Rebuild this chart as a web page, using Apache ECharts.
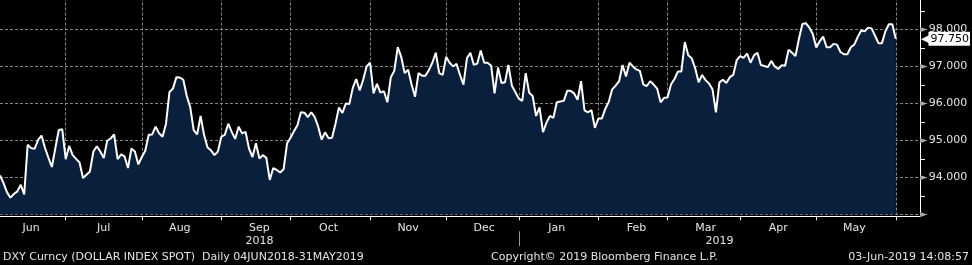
<!DOCTYPE html>
<html><head><meta charset="utf-8">
<script src="https://cdn.jsdelivr.net/npm/echarts@6/dist/echarts.min.js"></script>
<style>html,body{margin:0;padding:0;background:#000;overflow:hidden;}#c{position:absolute;left:0;top:-13px;width:972px;height:278px;}</style>
</head><body><div id="c"></div>
<script>
// ---- data ----
const firstDay = '2018-06-04';
const lastDataDay = '2019-05-31';
const axisEndDay = '2019-06-11';
const monthNames = ['Jan','Feb','Mar','Apr','May','Jun','Jul','Aug','Sep','Oct','Nov','Dec'];
const dxy2018 = [
94.05,93.85,93.60,93.45,93.55,93.62,93.80,93.54,94.88,94.79,
94.77,95.01,95.13,94.80,94.53,94.28,94.79,95.28,95.30,94.49,
94.85,94.60,94.50,94.40,93.98,94.07,94.16,94.70,94.84,94.70,
94.52,94.99,95.05,95.16,94.49,94.62,94.57,94.25,94.78,94.70,
94.35,94.55,94.72,95.15,95.16,95.37,95.19,95.10,95.45,96.31,
96.40,96.71,96.70,96.64,96.20,95.90,95.28,95.16,95.66,95.15,
94.81,94.73,94.60,94.70,95.10,95.15,95.45,95.23,95.04,95.37,
95.19,95.23,94.78,94.55,94.92,94.51,94.60,94.53,93.93,94.25,
94.20,94.13,94.22,94.92,95.07,95.25,95.41,95.76,95.75,95.63,
95.76,95.63,95.37,95.02,95.22,95.06,95.07,95.45,95.89,95.74,
96.00,95.98,96.42,96.66,96.35,96.64,97.00,97.10,96.27,96.53,
96.29,96.33,96.03,96.71,96.88,97.52,97.26,96.82,96.91,96.51,
96.18,96.82,96.75,96.75,96.90,97.10,97.37,96.82,96.77,97.26,
97.10,97.00,97.07,96.77,96.51,97.22,97.37,97.04,97.08,97.43,
97.10,97.10,97.02,96.27,96.97,96.55,96.57,97.04,96.48,96.31,
96.13];
const dxy2019 = [
96.07,96.82,96.29,96.20,95.66,95.89,95.22,95.48,95.66,95.61,
96.03,96.05,96.07,96.34,96.34,96.27,96.10,96.60,95.81,95.76,
95.82,95.34,95.59,95.59,95.85,96.04,96.38,96.48,96.60,97.04,
96.73,97.10,97.00,96.92,96.88,96.51,96.47,96.60,96.51,96.40,
96.03,96.15,96.16,96.51,96.66,96.86,96.86,97.66,97.30,97.22,
96.95,96.57,96.77,96.63,96.54,96.38,95.76,96.57,96.64,96.55,
96.71,96.77,97.17,97.28,97.23,97.35,97.10,97.30,97.37,97.04,
97.01,96.98,97.15,97.00,96.93,97.03,97.02,97.45,97.37,97.28,
97.75,98.15,98.17,98.05,97.88,97.51,97.68,97.81,97.52,97.52,
97.61,97.59,97.39,97.33,97.33,97.52,97.59,97.80,97.97,97.95,
98.05,98.03,97.83,97.63,97.63,97.95,98.14,98.14,97.75];
const yMin = 93, yMax = 99, yStep = 1;
const footerLeft = 'DXY Curncy (DOLLAR INDEX SPOT)  Daily 04JUN2018-31MAY2019';
const footerMid = 'Copyright\u00a9 2019 Bloomberg Finance L.P.';
const footerRight = '03-Jun-2019 14:08:57';

// ---- build ----
function weekdays(a, b) {
  const out = [];
  let d = new Date(a + 'T00:00:00Z');
  const e = new Date(b + 'T00:00:00Z');
  while (d <= e) {
    const w = d.getUTCDay();
    if (w !== 0 && w !== 6) out.push(d.toISOString().slice(0, 10));
    d = new Date(d.getTime() + 86400000);
  }
  return out;
}
const dates = weekdays(firstDay, axisEndDay);
const values = dxy2018.concat(dxy2019);
const mon = s => +s.slice(5, 7);
const day = s => +s.slice(8, 10);
const yr = s => s.slice(0, 4);
const lastIdx = dates.indexOf(lastDataDay);
function isMonthEnd(i) { return i < dates.length - 1 && mon(dates[i]) !== mon(dates[i + 1]); }
function isMidMonth(i) {
  if (i > lastIdx) return false;
  return day(dates[i]) >= 15 && (i === 0 || day(dates[i - 1]) < 15 || mon(dates[i - 1]) !== mon(dates[i]));
}
function isYearEnd(i) { return i < dates.length - 1 && yr(dates[i]) !== yr(dates[i + 1]); }
const yearMid = {};
(function () {
  const span = {};
  dates.forEach((d, i) => { const y = yr(d); if (!span[y]) span[y] = [i, i]; span[y][1] = i; });
  Object.keys(span).forEach(y => { yearMid[Math.floor((span[y][0] + span[y][1]) / 2)] = y; });
})();

const FONT = 'DejaVu Sans';
const TXT = '#e4e4e4';
const GRID = '#858585';
const lastVal = values[values.length - 1];

const chart = echarts.init(document.getElementById('c'), null, { renderer: 'canvas' });
chart.setOption({
  backgroundColor: '#000',
  animation: false,
  title: [
    { text: footerLeft, left: 3, top: 265, padding: 0, textStyle: { color: TXT, fontSize: 11, fontWeight: 'normal', fontFamily: FONT } },
    { text: footerMid, left: 491, top: 265, padding: 0, textStyle: { color: TXT, fontSize: 11, fontWeight: 'normal', fontFamily: FONT } },
    { text: footerRight, right: 3, top: 265, padding: 0, textStyle: { color: TXT, fontSize: 11, fontWeight: 'normal', fontFamily: FONT } }
  ],
  grid: { left: 0, right: 52, top: 0.4, bottom: 50.7 },
  xAxis: [
    {
      type: 'category', data: dates, boundaryGap: false, position: 'bottom', offset: 2,
      axisLine: { show: true, lineStyle: { color: '#fff', width: 1 } },
      axisTick: { show: true, interval: isMonthEnd, length: 4, lineStyle: { color: '#fff' } },
      axisLabel: { interval: isMidMonth, margin: 6, color: TXT, fontSize: 11, fontFamily: FONT,
        formatter: v => monthNames[mon(v) - 1] },
      splitLine: { show: true, interval: isMonthEnd, lineStyle: { color: GRID, type: [3, 2], width: 1 } }
    },
    {
      type: 'category', data: dates, boundaryGap: false, position: 'bottom', offset: 17,
      axisLine: { show: false },
      axisTick: { show: true, interval: isYearEnd, length: 15, lineStyle: { color: '#9a9a9a' } },
      axisLabel: { interval: i => yearMid[i] !== undefined, margin: 4, color: TXT, fontSize: 11, fontFamily: FONT,
        formatter: (v) => yr(v) },
      splitLine: { show: false }
    }
  ],
  yAxis: {
    type: 'value', position: 'right', min: yMin, max: yMax, interval: yStep,
    axisLine: { show: true, lineStyle: { color: '#fff', width: 1 } },
    axisTick: { show: false },
    minorTick: { show: true, splitNumber: 2, length: 5, lineStyle: { color: '#fff' } },
    splitLine: { show: true, lineStyle: { color: GRID, type: [3, 2], width: 1 } },
    axisLabel: {
      margin: 0, fontFamily: FONT, fontSize: 11, color: TXT,
      formatter: v => v === yMin ? '{a|\u25BA}' : '{a|\u25BA}{b|' + v.toFixed(3) + '}',
      rich: {
        a: { color: '#a8a8a8', fontSize: 10, fontFamily: FONT, padding: [0, 1, 0, 0] },
        b: { color: TXT, fontSize: 11, fontFamily: FONT }
      }
    }
  },
  series: [{
    type: 'line', data: values, xAxisIndex: 0, showSymbol: false, symbol: 'none', clip: false,
    lineStyle: { color: '#fff', width: 2 },
    areaStyle: { color: '#0a1f3b', opacity: 1, origin: 'start' },
    markLine: {
      silent: true, symbol: ['none', 'none'], animation: false,
      lineStyle: { color: 'rgba(0,0,0,0)', width: 0 },
      data: [{ yAxis: lastVal }],
      label: {
        show: true, position: 'end', distance: 1, opacity: 1,
        formatter: () => '{a|\u25C0}{b|' + lastVal.toFixed(3) + '}',
        rich: {
          a: { color: '#fff', fontSize: 11, fontFamily: FONT, padding: [0, -1, 0, 0] },
          b: { color: '#000', backgroundColor: '#fff', fontSize: 11, fontFamily: FONT, padding: [2, 1, 1, 2] }
        }
      }
    }
  }]
});
</script>
</body></html>
